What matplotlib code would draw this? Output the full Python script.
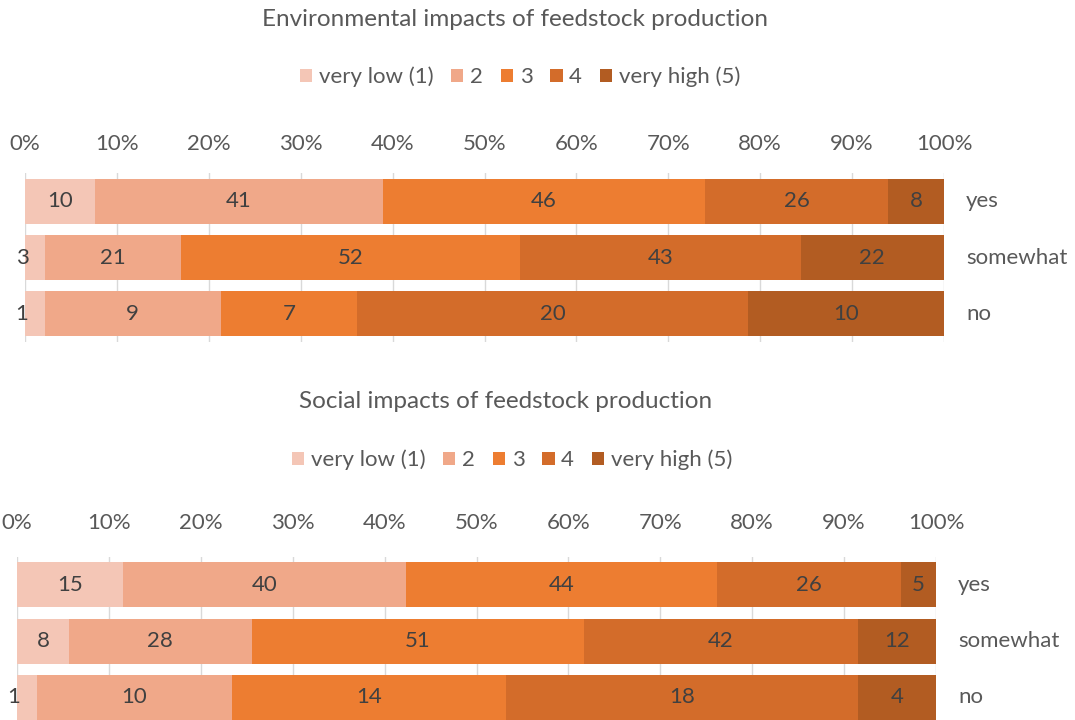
import numpy as np
import matplotlib
matplotlib.use('Agg')
import matplotlib.pyplot as plt
from matplotlib.patches import Patch

plt.rcParams['font.family'] = ['Lato', 'DejaVu Sans']

# ========================
# Data
# ========================
categories = ['yes', 'somewhat', 'no']
levels = ['very low (1)', '2', '3', '4', 'very high (5)']
colours = ['#F4C6B6', '#F0A889', '#ED7D31', '#D36C2A', '#B25C22']

envTitle = 'Environmental impacts of feedstock production'
envCounts = [[10, 41, 46, 26, 8],
             [3, 21, 52, 43, 22],
             [1, 9, 7, 20, 10]]

socTitle = 'Social impacts of feedstock production'
socCounts = [[15, 40, 44, 26, 5],
             [8, 28, 51, 42, 12],
             [1, 10, 14, 18, 4]]

tickPerc = [0, 10, 20, 30, 40, 50, 60, 70, 80, 90, 100]

textCol = '#595959'
labelCol = '#404040'
gridCol = '#D9D9D9'
fs = 16

# ========================
# Functions
# ========================
def drawPanel(ax, counts, pad):
    counts = np.asarray(counts, dtype=float)
    shares = counts / counts.sum(axis=1, keepdims=True) * 100
    left = np.zeros(len(categories))
    ypos = np.arange(len(categories))
    for j in range(len(levels)):
        ax.barh(ypos, shares[:, j], left=left, height=0.8, color=colours[j], zorder=2)
        for i in range(len(categories)):
            val = int(counts[i, j])
            centre = left[i] + shares[i, j] / 2
            if shares[i, j] < 3:
                # too narrow: the label sits left of the bar
                ax.annotate(str(val), (0, ypos[i]), xytext=(2.5, 0), textcoords='offset points',
                            ha='right', va='center', fontsize=fs, color=labelCol, zorder=3)
            else:
                ax.text(centre, ypos[i], str(val), ha='center', va='center',
                        fontsize=fs, color=labelCol, zorder=3)
        left += shares[:, j]
    for i, cat in enumerate(categories):
        ax.annotate(cat, (100, ypos[i]), xytext=(16, 0), textcoords='offset points',
                    ha='left', va='center', fontsize=fs, color=textCol)
    ax.set_xlim(0, 100)
    ax.set_ylim(2.5, -0.5)
    ax.set_xticks(tickPerc)
    ax.set_xticklabels(['{}%'.format(t) for t in tickPerc])
    ax.xaxis.tick_top()
    ax.tick_params(axis='x', length=0, pad=pad, labelsize=fs, labelcolor=textCol)
    ax.set_yticks([])
    ax.grid(axis='x', color=gridCol, linewidth=1, zorder=0)
    for s in ax.spines.values():
        s.set_visible(False)

# ========================
# Figure
# ========================
fig = plt.figure(figsize=(10.75, 7.2), dpi=100)
W, H = 1075.0, 720.0

axTop = fig.add_axes([25 / W, 1 - 342 / H, 919 / W, 168.75 / H])
drawPanel(axTop, envCounts, 14)
axBot = fig.add_axes([17 / W, 1 - 725.6 / H, 919 / W, 168.75 / H])
drawPanel(axBot, socCounts, 17)

handles = [Patch(facecolor=c, edgecolor='none') for c in colours]
legKw = dict(loc='center', ncol=5, frameon=False, fontsize=fs, handlelength=0.55,
             handleheight=0.55, handletextpad=0.3, columnspacing=0.8, labelcolor=textCol)

fig.text(515 / W, 1 - 20 / H, envTitle, ha='center', va='center', fontsize=17.5, color=textCol)
fig.legend(handles, levels, bbox_to_anchor=(520 / W, 1 - 77 / H), **legKw)

fig.text(506 / W, 1 - 401 / H, socTitle, ha='center', va='center', fontsize=17.5, color=textCol)
fig.legend(handles, levels, bbox_to_anchor=(512 / W, 1 - 460 / H), **legKw)

fig.savefig('out.png', dpi=100)
